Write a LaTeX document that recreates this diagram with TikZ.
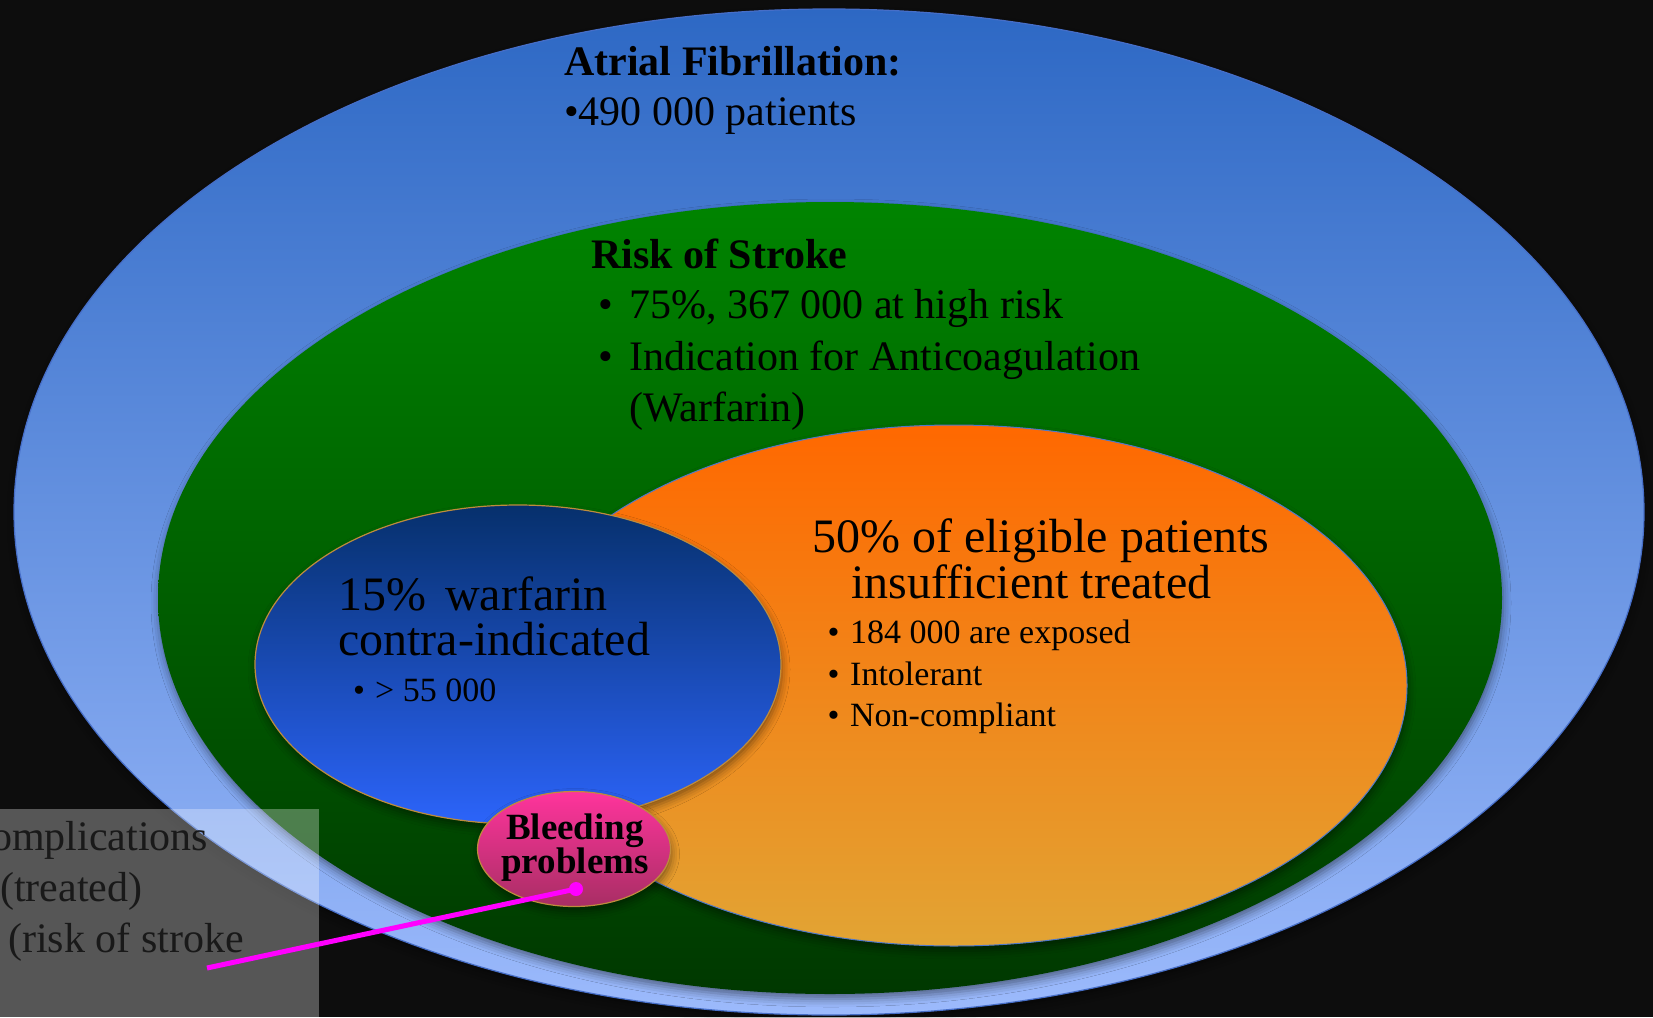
\documentclass[tikz,border=0pt]{standalone}
\usepackage{fontspec}
\setmainfont{Liberation Serif}
\usetikzlibrary{shapes.geometric,shadows.blur}
\definecolor{bgc}{HTML}{0D0D0D}
\definecolor{afTop}{RGB}{45,104,196}
\definecolor{afBot}{RGB}{156,186,252}
\definecolor{afLine}{RGB}{70,110,200}
\definecolor{rsTop}{RGB}{0,132,0}
\definecolor{rsBot}{RGB}{0,56,0}
\definecolor{orTop}{RGB}{255,104,0}
\definecolor{orBot}{RGB}{226,164,52}
\definecolor{orLine}{RGB}{80,120,200}
\definecolor{blTop}{RGB}{6,48,108}
\definecolor{blBot}{RGB}{44,100,250}
\definecolor{gold}{RGB}{190,140,60}
\definecolor{pkTop}{RGB}{255,52,156}
\definecolor{pkBot}{RGB}{168,46,100}
\definecolor{mag}{RGB}{255,0,255}
\newcommand{\bulx}[1]{\makebox[#1][l]{•}}
\begin{document}
\begin{tikzpicture}[x=1pt,y=-1pt,
  zone/.style={ellipse, inner sep=0pt},
  shad/.style={blur shadow={shadow xshift=1pt, shadow yshift=-5pt, shadow blur radius=8pt, shadow opacity=45}},
  big/.style={font=\fontsize{42}{50}\selectfont, inner sep=0pt, anchor=base west},
  mid/.style={font=\fontsize{48}{56}\selectfont, inner sep=0pt, anchor=base west},
  small/.style={font=\fontsize{34}{40}\selectfont, inner sep=0pt, anchor=base west},
  bleed/.style={font=\fontsize{37}{42}\selectfont\bfseries, inner sep=0pt, anchor=base},
  graytxt/.style={font=\fontsize{42}{50}\selectfont, inner sep=0pt, anchor=base west, text=black!90}
]
\useasboundingbox (0,0) rectangle (1653,1017);
\clip (0,0) rectangle (1653,1017);
\fill[bgc] (0,0) rectangle (1653,1017);

% ellipses
\node[zone, shad, minimum width=1630pt, minimum height=1006pt, top color=afTop, bottom color=afBot, draw=afLine, line width=1.2pt] (af) at (829,512) {};
\node[zone, shad, minimum width=1344pt, minimum height=792pt, top color=rsTop, bottom color=rsBot] (rs) at (830,598) {};
\node[zone, shad, minimum width=906pt, minimum height=521pt, top color=orTop, bottom color=orBot, draw=orLine, line width=1pt] (or) at (954,685.5) {};
\node[zone, shad, minimum width=526pt, minimum height=319pt, top color=blTop, bottom color=blBot, draw=gold, line width=1.2pt] (bl) at (518,664.5) {};
\node[zone, shad, minimum width=193pt, minimum height=115pt, top color=pkTop, bottom color=pkBot, draw=gold, line width=1.2pt] (pk) at (574,849) {};

% texts
\node[big] (t1) at (564,75) {\bfseries Atrial Fibrillation:};
\node[big] (t2) at (564,125) {•490 000 patients};
\node[big] (t3) at (591,268) {\bfseries Risk of Stroke};
\node[big] (t4) at (598,318) {\bulx{31pt}75\%, 367 000 at high risk};
\node[big] (t5) at (598,370) {\bulx{31pt}Indication for Anticoagulation};
\node[big] (t6) at (629,421) {(Warfarin)};

\node[mid] (b1) at (338,610) {15\%\hspace{0.4em}warfarin};
\node[mid] (b2) at (338,655) {contra-indicated};
\node[small] (b3) at (353,701) {\bulx{22pt}> 55 000};

\node[mid] (o1) at (812,552) {50\% of eligible patients};
\node[mid] (o2) at (851,598) {insufficient treated};
\node[small] (o3) at (827.5,643) {\bulx{22.5pt}184 000 are exposed};
\node[small] (o4) at (827.5,685) {\bulx{22.5pt}Intolerant};
\node[small] (o5) at (827.5,726) {\bulx{22.5pt}Non-compliant};

\node[bleed] (p1) at (575,839) {Bleeding};
\node[bleed] (p2) at (575,873) {problems};

% gray overlay box
\fill[white, fill opacity=0.3] (-5,809) rectangle (319,1030);
\node[graytxt] (g1) at (-9,850) {omplications};
\node[graytxt] (g2) at (0,901) {(treated)};
\node[graytxt] (g3) at (8,952) {(risk of stroke};

% magenta pointer
\coordinate (lend) at (207,968);
\node[circle, fill=mag, minimum width=14pt, minimum height=14pt, inner sep=0pt] (dot) at (576,889) {};
\draw[mag, line width=5pt] (lend) -- (dot.center);
\end{tikzpicture}
\end{document}
